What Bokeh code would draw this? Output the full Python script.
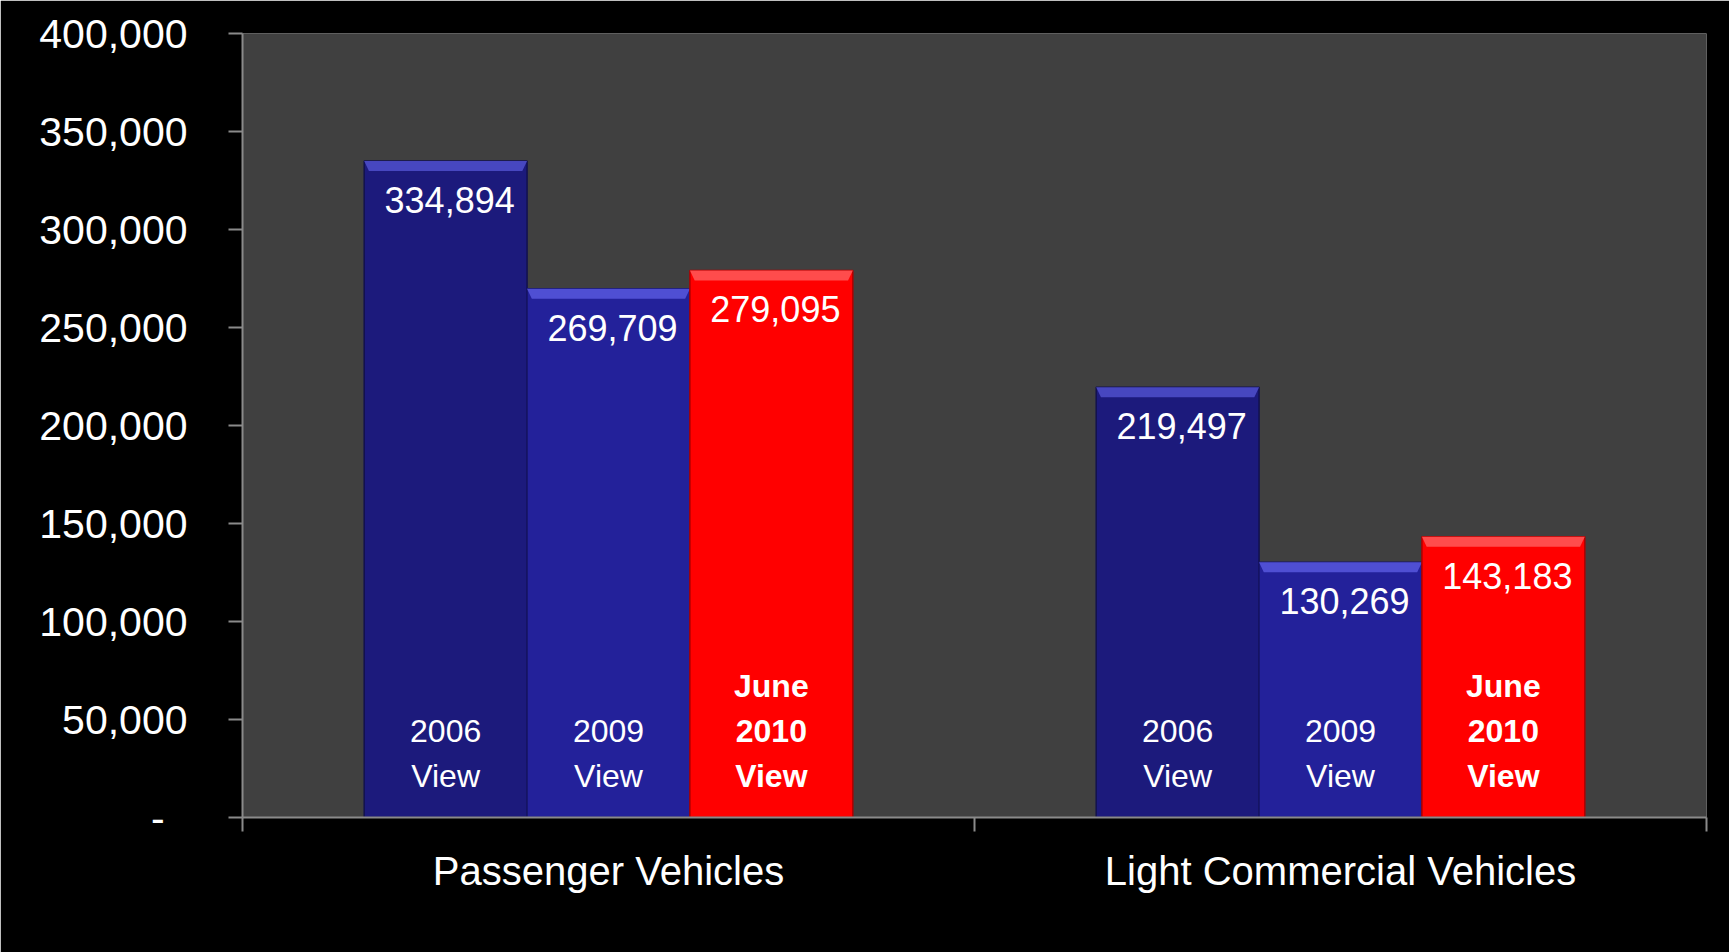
from bokeh.plotting import figure
from bokeh.models import (ColumnDataSource, Range1d, LinearAxis,
                          FixedTicker, NumeralTickFormatter)
from bokeh.core.properties import value
from bokeh.embed import file_html
from bokeh.resources import INLINE

# ---- data ----
categories = ["Passenger Vehicles", "Light Commercial Vehicles"]
series_names = ["2006 View", "2009 View", "June 2010 View"]
values_2006 = [334894, 219497]
values_2009 = [269709, 130269]
values_2010 = [279095, 143183]
y_ticks = [0, 50000, 100000, 150000, 200000, 250000, 300000, 350000, 400000]

series_values = [values_2006, values_2009, values_2010]
fill_colors = ["#1c1a7c", "#23219a", "#ff0000"]
bevel_colors = ["#4a4ac4", "#5252d6", "#ff5050"]
edge_colors = ["#12114e", "#161568", "#b00000"]
bold_flags = [False, False, True]

FONT = "Liberation Sans"
GRAY = "#8a8a8a"

Y_MAX = 400000
FRAME_H = 784
px = Y_MAX / FRAME_H  # data units per pixel (for bevel styling)

p = figure(
    x_range=Range1d(0, len(categories)),
    y_range=Range1d(0, Y_MAX),
    frame_width=1464, frame_height=FRAME_H,
    min_border_left=242, min_border_right=23, min_border_top=33, min_border_bottom=135,
    output_backend="svg", toolbar_location=None,
    x_axis_location=None, y_axis_location=None,
)
p.border_fill_color = "black"
p.background_fill_color = "#404040"
p.outline_line_color = None
p.xgrid.visible = False
p.ygrid.visible = False

bar_w = 0.2225
offsets = [-bar_w, 0.0, bar_w]
centers = [i + 0.5 for i in range(len(categories))]
bev_dx = 0.0065
bev_h = 10 * px

for vals, name, fc, bc, ec, off, bold in zip(series_values, series_names, fill_colors,
                                             bevel_colors, edge_colors, offsets, bold_flags):
    xs = [c + off for c in centers]
    src = ColumnDataSource(dict(
        x=xs,
        val=vals,
        lab=[f"{v:,}" for v in vals],
        zero=[0] * len(vals),
    ))
    p.vbar(x="x", top="val", width=bar_w, source=src,
           fill_color=fc, line_color=ec, line_width=1.5)
    # bevel highlight along the top edge (trapezoid)
    pxs = [[x - bar_w / 2, x + bar_w / 2, x + bar_w / 2 - bev_dx, x - bar_w / 2 + bev_dx]
           for x in xs]
    pys = [[v, v, v - bev_h, v - bev_h] for v in vals]
    p.patches(xs=pxs, ys=pys, fill_color=bc, line_color=None, fill_alpha=0.95)
    # value labels inside bar top
    p.text(x="x", y="val", text="lab", source=src,
           text_font=value(FONT), text_font_size="36px", text_color="white",
           text_align="center", text_baseline="alphabetic",
           x_offset=4, y_offset=39)
    # series labels near bottom
    lines = name.split(" ")
    n = len(lines)
    for k, line in enumerate(lines):
        lsrc = ColumnDataSource(dict(x=xs, zero=[0] * len(xs), t=[line] * len(xs)))
        p.text(x="x", y="zero", text="t", source=lsrc,
               text_font=value(FONT), text_font_size="32px", text_color="white",
               text_font_style="bold" if bold else "normal",
               text_align="center", text_baseline="alphabetic",
               y_offset=-42 - 45 * (n - 1 - k))

# ---- axes ----
xaxis = LinearAxis(
    ticker=FixedTicker(ticks=centers, minor_ticks=list(range(len(categories) + 1))),
)
xaxis.major_label_overrides = {c: lab for c, lab in zip(centers, categories)}
xaxis.major_tick_out = 0
xaxis.major_tick_in = 0
xaxis.minor_tick_out = 14
xaxis.minor_tick_in = 0
xaxis.minor_tick_line_color = GRAY
xaxis.minor_tick_line_width = 2
xaxis.axis_line_color = GRAY
xaxis.axis_line_width = 2
xaxis.major_label_text_font = FONT
xaxis.major_label_text_font_size = "40px"
xaxis.major_label_text_color = "white"
xaxis.major_label_standoff = 17
p.add_layout(xaxis, "below")

yaxis = LinearAxis(ticker=FixedTicker(ticks=y_ticks, minor_ticks=[]),
                   formatter=NumeralTickFormatter(format="0,0"))
yaxis.major_label_overrides = {0: "-\u00a0\u00a0"}
yaxis.major_tick_out = 14
yaxis.major_tick_in = 0
yaxis.major_tick_line_color = GRAY
yaxis.major_tick_line_width = 2
yaxis.minor_tick_line_color = None
yaxis.axis_line_color = GRAY
yaxis.axis_line_width = 2
yaxis.major_label_text_font = FONT
yaxis.major_label_text_font_size = "41px"
yaxis.major_label_text_color = "white"
yaxis.major_label_standoff = 41
p.add_layout(yaxis, "left")

open("out.html", "w").write(file_html(p, INLINE))
